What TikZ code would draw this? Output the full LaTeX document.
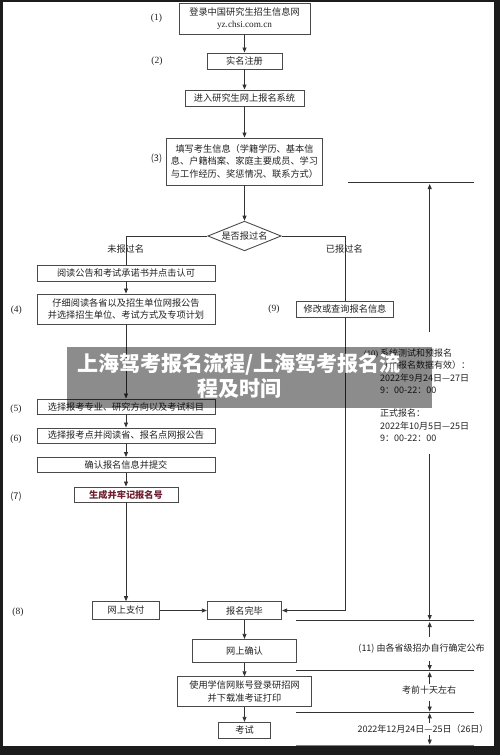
\documentclass[tikz,border=0pt]{standalone}
\usepackage{fontspec}
\setmainfont{Noto Sans CJK SC}
\newfontfamily\serif{Liberation Serif}
\usetikzlibrary{arrows.meta,shapes.geometric}
\definecolor{txt}{HTML}{222222}
\definecolor{boxgray}{HTML}{4A4A4A}
\definecolor{linegray}{HTML}{333333}
\definecolor{darkred}{HTML}{6D1F2F}
\definecolor{frame}{HTML}{1C1C1C}
\tikzset{
  box/.style={draw=boxgray, line width=0.9pt, fill=white, inner sep=1pt,
    font=\fontsize{9.2}{12.5}\selectfont, text=txt, align=center},
  ln/.style={draw=linegray, line width=0.8pt},
  arr/.style={ln, -{Triangle[length=5pt,width=4pt]}},
  num/.style={font=\serif\fontsize{9.5}{11}\selectfont, text=txt},
  snum/.style={font=\fontsize{9.2}{11}\selectfont, text=txt},
  lbl/.style={font=\fontsize{9.2}{11}\selectfont, text=txt, inner sep=0pt},
  tl/.style={font=\fontsize{9}{12.5}\selectfont, text=txt, inner sep=0pt, align=left},
  tline/.style={draw=linegray, line width=0.9pt},
}
\begin{document}
\begin{tikzpicture}[x=1pt,y=-1pt]
\useasboundingbox (0,0) rectangle (500,755);
\fill[frame] (0,0) rectangle (500,755);
\fill[white] (3,2) rectangle (494,745.5);

% main column
\node[box, minimum width=131pt, minimum height=31pt] (b1) at (244.5,18.5) {登录中国研究生招生信息网\\{\serif yz.chsi.com.cn}};
\node[box, minimum width=75pt, minimum height=16pt] (b2) at (244.5,61) {实名注册};
\node[box, minimum width=119pt, minimum height=16pt] (b3) at (244.5,98) {进入研究生网上报名系统};
\node[box, minimum width=156pt, minimum height=47pt] (b4) at (244.5,161.5) {填写考生信息（学籍学历、基本信\\息、户籍档案、家庭主要成员、学习\\与工作经历、奖惩情况、联系方式）};
\node[draw=boxgray, line width=0.9pt, fill=white, shape=diamond, aspect=2.5, inner sep=0pt,
  minimum width=73.4pt, minimum height=29.7pt, font=\fontsize{9.2}{11}\selectfont, text=txt] (dia) at (244.5,236) {是否报过名};

% left column
\node[box, minimum width=178pt, minimum height=16pt] (b5) at (126,273) {阅读公告和考试承诺书并点击认可};
\node[box, minimum width=178pt, minimum height=30pt] (b6) at (126,309) {仔细阅读各省以及招生单位网报公告\\并选择招生单位、考试方式及专项计划};
\node[box, minimum width=178pt, minimum height=15pt] (b7) at (126,406.5) {选择报考专业、研究方向以及考试科目};
\node[box, minimum width=178pt, minimum height=15pt] (b8) at (126,435.5) {选择报考点并阅读省、报名点网报公告};
\node[box, minimum width=178pt, minimum height=15pt] (b9) at (126,465) {确认报名信息并提交};
\node[box, minimum width=104pt, minimum height=15pt, text=darkred, font=\bfseries\fontsize{9.2}{11}\selectfont] (b10) at (126,494.5) {生成并牢记报名号};
\node[box, minimum width=66.7pt, minimum height=17.7pt] (b11) at (126,610.5) {网上支付};

% right column
\node[box, minimum width=97pt, minimum height=16pt] (b9b) at (345,309) {修改或查询报名信息};

% lower main column
\node[box, minimum width=74.4pt, minimum height=17.7pt] (b12) at (244.5,610.5) {报名完毕};
\node[box, minimum width=103.7pt, minimum height=22.7pt] (b13) at (244.5,650.7) {网上确认};
\node[box, minimum width=133.7pt, minimum height=30pt] (b14) at (244.5,691.7) {使用学信网账号登录研招网\\并下载准考证打印};
\node[box, minimum width=51.7pt, minimum height=16pt] (b15) at (244.5,730.3) {考试};

% step numbers
\node[num] (n1) at (156.5,18) {(1)};
\node[num] (n2) at (157,61) {(2)};
\node[snum] (n3) at (156.5,159) {(3)};
\node[num] (n4) at (16.3,310) {(4)};
\node[num] (n5) at (16,409) {(5)};
\node[num] (n6) at (16,439) {(6)};
\node[snum] (n7) at (16,496.7) {(7)};
\node[num] (n8) at (18,612.7) {(8)};
\node[num] (n9) at (274,309) {(9)};

% connectors
\draw[arr] (b1.south) -- (b2.north);
\draw[arr] (b2.south) -- (b3.north);
\draw[arr] (b3.south) -- (b4.north);
\draw[arr] (b4.south) -- (dia.north);
\draw[ln] (dia.west) -| (b5.north);
\draw[ln] (dia.east) -| (b9b.north);
\node[lbl] (l1) at (125.7,249.3) {未报过名};
\node[lbl] (l2) at (344.3,249.3) {已报过名};
\draw[arr] (b5.south) -- (b6.north);
\draw[arr] (b6.south) -- (b7.north);
\draw[arr] (b7.south) -- (b8.north);
\draw[arr] (b8.south) -- (b9.north);
\draw[arr] (b9.south) -- (b10.north);
\draw[arr] (b10.south) -- (b11.north);
\draw[arr] (b11.east) -- (b12.west);
\draw[arr] (b9b.south) |- (b12.east);
\draw[arr] (b12.south) -- (b13.north);
\draw[arr] (b13.south) -- (b14.north);
\draw[arr] (b14.south) -- (b15.north);

% timeline
\coordinate (h0l) at (348,182.3); \coordinate (h0r) at (474,182.3);
\coordinate (h1l) at (296,620.7); \coordinate (h1r) at (474,620.7);
\coordinate (h2l) at (296,670.7); \coordinate (h2r) at (474,670.7);
\coordinate (h3l) at (296,712.3); \coordinate (h3r) at (474,712.3);
\coordinate (h4l) at (296,745); \coordinate (h4r) at (474,745);
\draw[tline] (h0l) -- (h0r);
\draw[tline] (h1l) -- (h1r);
\draw[tline] (h2l) -- (h2r);
\draw[tline] (h3l) -- (h3r);
\draw[tline, draw=gray] (h4l) -- (h4r);

\coordinate (v1s) at (429.7,332); \coordinate (v1e) at (429.7,184);
\coordinate (v2s) at (429.7,454); \coordinate (v2e) at (429.7,620);
\coordinate (v3s) at (429.7,637); \coordinate (v3e) at (429.7,622);
\coordinate (v4s) at (429.7,661); \coordinate (v4e) at (429.7,670);
\coordinate (v5s) at (429.7,684); \coordinate (v5e) at (429.7,672);
\coordinate (v6s) at (429.7,700.7); \coordinate (v6e) at (429.7,711.5);
\coordinate (v7s) at (429.7,722.7); \coordinate (v7e) at (429.7,713.3);
\coordinate (v8s) at (429.7,735); \coordinate (v8e) at (429.7,744.5);
\draw[arr] (v1s) -- (v1e);
\draw[arr] (v2s) -- (v2e);
\draw[arr] (v3s) -- (v3e);
\draw[arr] (v4s) -- (v4e);
\draw[arr] (v5s) -- (v5e);
\draw[arr] (v6s) -- (v6e);
\draw[arr] (v7s) -- (v7e);
\draw[arr] (v8s) -- (v8e);

\node[tl, font=\serif\fontsize{8.5}{10}\selectfont, anchor=east] (t10n) at (378.5,354) {(10)};
\node[tl, anchor=north west] (t10) at (380,348.5) {系统测试和预报名\\（预报名数据有效）：\\2022年9月24日—27日\\9：00-22：00\\[10.5pt]正式报名：\\2022年10月5日—25日\\9：00-22：00};
\node[tl] (t11) at (421.5,648.7) {(11) 由各省级招办自行确定公布};
\node[tl] (t12) at (429,690) {考前十天左右};
\node[tl] (t13) at (423,729.3) {2022年12月24日—25日（26日）};

% watermark overlay
\node[fill=black, fill opacity=0.45, minimum width=365pt, minimum height=61.6pt, inner sep=0pt] (wmbox) at (249.2,377.5) {};
\node[text=white, font=\bfseries\fontsize{21}{24.3}\selectfont, align=center, inner sep=0pt] (wm) at (239,376) {上海驾考报名流程/上海驾考报名流\\程及时间};
\end{tikzpicture}
\end{document}
